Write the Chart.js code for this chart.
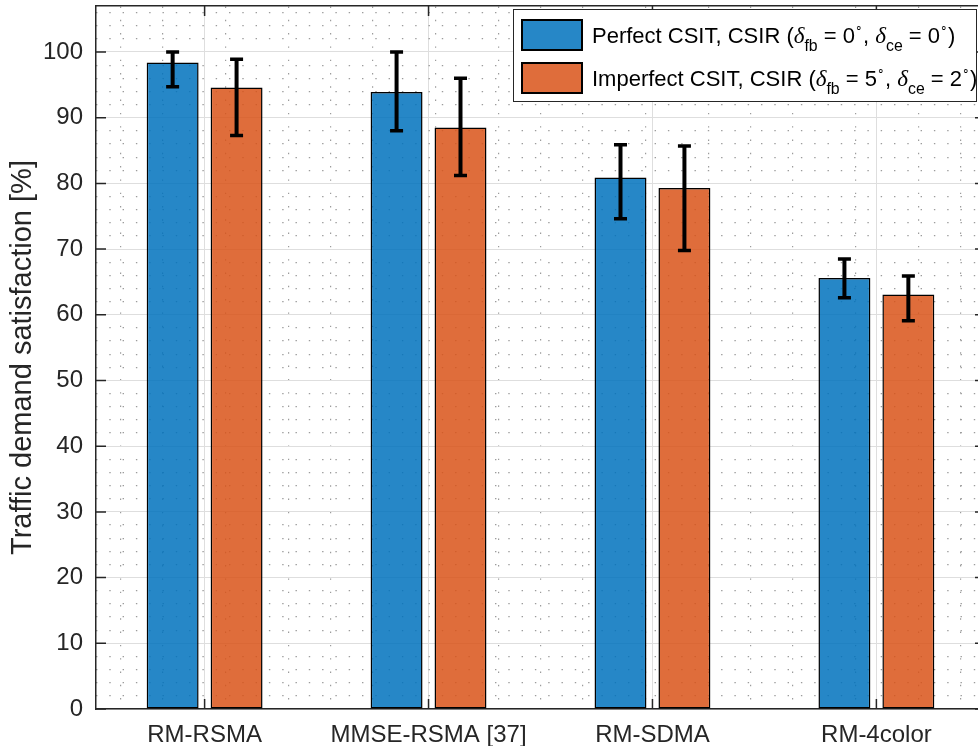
<!DOCTYPE html>
<html>
<head>
<meta charset="utf-8">
<script src="https://cdn.jsdelivr.net/npm/chart.js@4.4.1/dist/chart.umd.min.js"></script>
<style>
  html, body { margin: 0; padding: 0; background: #fff; overflow: hidden; width: 978px; height: 746px; }
  #wrap { position: relative; width: 995px; height: 746px; }
  #legend {
    position: absolute; left: 513px; top: 9px; width: 464px; height: 93px;
    box-sizing: border-box; border: 1.5px solid #262626; background: #fff;
    font-family: 'Liberation Sans', Arial, sans-serif; font-size: 22px; color: #000;
  }
  .row { position: absolute; left: 7px; height: 32px; display: flex; align-items: center; white-space: nowrap; }
  .sw { width: 62px; height: 32px; box-sizing: border-box; border: 2px solid #000; margin-right: 9px; }
  .row i { font-family: 'Liberation Serif', serif; font-size: 1.05em; }
  .row sub { font-size: 0.72em; vertical-align: -0.5em; line-height: 0; }
  .row sup { font-size: 0.55em; vertical-align: 0.95em; line-height: 0; }
</style>
</head>
<body>
<div id="wrap">
  <canvas id="myChart" width="995" height="746"></canvas>
  <div id="legend"></div>
</div>
<script>
// categories on the x axis
const categories = ['RM-RSMA', 'MMSE-RSMA [37]', 'RM-SDMA', 'RM-4color'];

// perfect CSIT/CSIR : mean + error bar ends
const perfectVals = [98.4, 93.9, 80.9, 65.6];
const perfectLow = [94.7, 88.0, 74.6, 62.6];
const perfectHigh = [100.0, 100.0, 85.9, 68.5];

// imperfect CSIT/CSIR
const imperfectVals = [94.6, 88.5, 79.3, 63.1];
const imperfectLow = [87.3, 81.2, 69.8, 59.1];
const imperfectHigh = [98.9, 96.0, 85.7, 65.9];

// legend text parts
const seriesNames = ['Perfect CSIT, CSIR', 'Imperfect CSIT, CSIR'];
const deltaFb = [0, 5];
const deltaCe = [0, 2];
const seriesColors = ['rgba(0,114,189,0.85)', 'rgba(217,83,25,0.85)'];

const yLabel = 'Traffic demand satisfaction [%]';

Chart.defaults.font.family = "'Liberation Sans', Arial, sans-serif";
Chart.defaults.color = '#262626';

const axisDark = '#262626';

// error bars drawn from the low/high arrays through the y scale
const errorBars = {
  id: 'errorBars',
  afterDatasetsDraw(chart) {
    const ctx = chart.ctx;
    const ys = chart.scales.y;
    chart.data.datasets.forEach((ds, d) => {
      const meta = chart.getDatasetMeta(d);
      meta.data.forEach((bar, i) => {
        const x = bar.x;
        const yl = ys.getPixelForValue(ds.errLow[i]);
        const yh = ys.getPixelForValue(ds.errHigh[i]);
        ctx.save();
        ctx.strokeStyle = '#000';
        ctx.lineWidth = 4;
        ctx.beginPath();
        ctx.moveTo(x, yl); ctx.lineTo(x, yh);
        ctx.stroke();
        ctx.lineWidth = 3.5;
        ctx.beginPath();
        ctx.moveTo(x - 6.5, yl); ctx.lineTo(x + 6.5, yl);
        ctx.moveTo(x - 6.5, yh); ctx.lineTo(x + 6.5, yh);
        ctx.stroke();
        ctx.restore();
      });
    });
  }
};

// matlab style ticks pointing inside the box
const inwardTicks = {
  id: 'inwardTicks',
  afterDraw(chart) {
    const ctx = chart.ctx;
    const {left, right, top, bottom} = chart.chartArea;
    const L = 10;
    ctx.save();
    ctx.strokeStyle = axisDark;
    ctx.lineWidth = 1.5;
    ctx.beginPath();
    chart.scales.y.ticks.forEach(t => {
      const p = chart.scales.y.getPixelForValue(t.value);
      ctx.moveTo(left, p); ctx.lineTo(left + L, p);
      ctx.moveTo(right, p); ctx.lineTo(right - L, p);
    });
    chart.scales.x.ticks.forEach(t => {
      const p = chart.scales.x.getPixelForValue(t.value);
      ctx.moveTo(p, bottom); ctx.lineTo(p, bottom - L);
      ctx.moveTo(p, top); ctx.lineTo(p, top + L);
    });
    ctx.stroke();
    ctx.restore();
  }
};

// no extra label overflow padding, the box is fixed
const noPad = s => { s.paddingTop = 0; s.paddingBottom = 0; s.paddingLeft = 0; s.paddingRight = 0; };

const minorDots = { color: '#9c9c9c', lineWidth: 1.2 };

new Chart(document.getElementById('myChart'), {
  type: 'bar',
  data: {
    datasets: [{
      label: seriesNames[0],
      data: perfectVals.map((v, i) => ({x: i + 1, y: v})),
      errLow: perfectLow,
      errHigh: perfectHigh,
      backgroundColor: seriesColors[0],
      borderColor: '#000',
      borderWidth: 1.5,
      borderSkipped: false,
      categoryPercentage: 0.571,
      barPercentage: 0.8125
    }, {
      label: seriesNames[1],
      data: imperfectVals.map((v, i) => ({x: i + 1, y: v})),
      errLow: imperfectLow,
      errHigh: imperfectHigh,
      backgroundColor: seriesColors[1],
      borderColor: '#000',
      borderWidth: 1.5,
      borderSkipped: false,
      categoryPercentage: 0.571,
      barPercentage: 0.8125
    }]
  },
  options: {
    responsive: false,
    animation: false,
    layout: { padding: { left: 0, right: 10, top: 6, bottom: 0 } },
    plugins: { legend: { display: false }, tooltip: { enabled: false } },
    scales: {
      x: {
        type: 'linear',
        position: 'bottom',
        min: 0.515,
        max: 4.485,
        offset: false,
        grid: { offset: false, color: '#dedede', lineWidth: 1, drawTicks: false },
        border: { color: axisDark, width: 1.5 },
        ticks: {
          stepSize: 1,
          includeBounds: false,
          padding: 12,
          font: { size: 24 },
          color: axisDark,
          autoSkip: false,
          maxRotation: 0,
          callback: v => categories[v - 1] || ''
        },
        afterFit: s => { s.height = 37; noPad(s); }
      },
      xMinor: {
        type: 'linear',
        position: 'top',
        min: 0.515,
        max: 4.485,
        grid: { color: minorDots.color, lineWidth: minorDots.lineWidth, drawTicks: false },
        border: { color: axisDark, width: 1.5, dash: [1.4, 11.9] },
        ticks: { display: false },
        afterBuildTicks: s => {
          const t = [];
          for (let k = 3; k <= 22; k++) if (k % 5 !== 0) t.push({value: k / 5});
          s.ticks = t;
        },
        afterFit: s => { s.height = 0; noPad(s); }
      },
      y: {
        type: 'linear',
        position: 'left',
        min: 0,
        max: 107,
        grid: { color: '#dedede', lineWidth: 1, drawTicks: false },
        border: { color: axisDark, width: 1.5 },
        ticks: { stepSize: 10, includeBounds: false, padding: 13, font: { size: 24 }, color: axisDark },
        title: { display: true, text: yLabel, font: { size: 29 }, color: axisDark, padding: { top: 6, bottom: 0 } },
        afterFit: s => { s.width = 96; noPad(s); }
      },
      yMinor: {
        type: 'linear',
        position: 'right',
        min: 0,
        max: 107,
        grid: { color: minorDots.color, lineWidth: minorDots.lineWidth, drawTicks: false },
        border: { color: axisDark, width: 1.5, dash: [1.4, 11.9] },
        ticks: { display: false },
        afterBuildTicks: s => {
          const t = [];
          for (let v = 2; v <= 106; v += 2) if (v % 10 !== 0) t.push({value: v});
          s.ticks = t;
        },
        afterFit: s => { s.width = 0; noPad(s); }
      }
    }
  },
  plugins: [errorBars, inwardTicks]
});

// legend with tex-like subscripts
const legendEl = document.getElementById('legend');
seriesNames.forEach((name, i) => {
  const row = document.createElement('div');
  row.className = 'row';
  row.style.top = (i === 0 ? 9 : 52) + 'px';
  row.innerHTML = '<div class="sw" style="background:' + seriesColors[i] + '"></div>' +
    '<span>' + name + ' (<i>δ</i><sub>fb</sub> = ' + deltaFb[i] + '<sup>∘</sup>, ' +
    '<i>δ</i><sub>ce</sub> = ' + deltaCe[i] + '<sup>∘</sup>)</span>';
  legendEl.appendChild(row);
});
</script>
</body>
</html>
